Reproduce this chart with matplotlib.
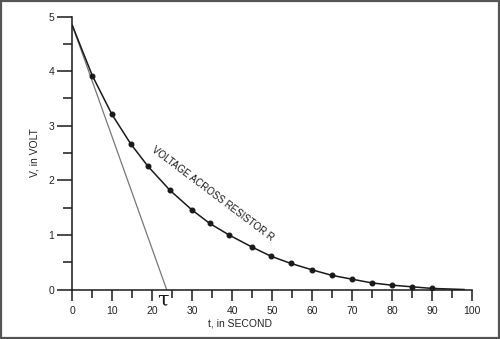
import matplotlib
matplotlib.use("Agg")
import matplotlib.pyplot as plt
from matplotlib.patches import Rectangle
from matplotlib.ticker import MultipleLocator

# Sampled capacitor discharge voltage (V) vs time (s)
t_samples = [5, 9.9, 14.6, 18.9, 24.4, 29.9, 34.4, 39.2, 44.9, 49.7,
             54.6, 60, 64.9, 69.9, 75, 79.9, 84.9, 90]
v_samples = [3.92, 3.21, 2.67, 2.26, 1.82, 1.46, 1.21, 1.00, 0.78, 0.61,
             0.48, 0.36, 0.26, 0.19, 0.12, 0.08, 0.05, 0.02]

# Curve start and end (no markers there)
v_start = 4.84
t_end, v_end = 98, 0.0

# Initial tangent crosses the time axis at tau
tau = 23.6

plt.rcParams['font.family'] = ['Liberation Sans', 'DejaVu Sans']

fig = plt.figure(figsize=(5.0, 3.39), dpi=100)
ax = fig.add_axes([0.1446, 0.146, 0.7994, 0.805])

curve_t = [0] + t_samples + [t_end]
curve_v = [v_start] + v_samples + [v_end]
ax.plot(curve_t, curve_v, color='#1a1a1a', lw=1.1, zorder=3)
ax.plot(t_samples, v_samples, 'o', color='#1a1a1a', ms=3.3, zorder=4)

ax.plot([0, tau], [v_start, 0], color='#777777', lw=0.9, zorder=2)

ax.set_xlim(0, 100)
ax.set_ylim(0, 5)
ax.xaxis.set_major_locator(MultipleLocator(10))
ax.xaxis.set_minor_locator(MultipleLocator(5))
ax.yaxis.set_major_locator(MultipleLocator(1))
ax.yaxis.set_minor_locator(MultipleLocator(0.5))

for side in ('top', 'right'):
    ax.spines[side].set_visible(False)
for side in ('left', 'bottom'):
    ax.spines[side].set_linewidth(1.1)
    ax.spines[side].set_color('#1a1a1a')

ax.tick_params(axis='y', which='major', direction='out', length=10.5, width=1.1,
               color='#1a1a1a', labelsize=7.5, pad=2.5, labelcolor='#222222')
ax.tick_params(axis='y', which='minor', direction='out', length=6.5, width=1.1,
               color='#1a1a1a')
ax.tick_params(axis='x', which='major', direction='out', length=8, width=1.1,
               color='#1a1a1a', labelsize=7.5, pad=4, labelcolor='#222222')
ax.tick_params(axis='x', which='minor', direction='out', length=6, width=1.1,
               color='#1a1a1a')

ax.text(-9.5, 2.5, 'V, in VOLT', rotation=90, ha='center', va='center',
        fontsize=7.5, color='#222222', clip_on=False)
ax.text(42, -0.62, 't, in SECOND', ha='center', va='center',
        fontsize=7.5, color='#222222', clip_on=False)

ax.text(22.7, -0.2, '\u03c4', ha='center', va='center', fontsize=15,
        family='DejaVu Serif', color='#1a1a1a', clip_on=False)

ax.text(35.2, 1.75, 'VOLTAGE ACROSS RESISTOR R', rotation=-37,
        rotation_mode='anchor', ha='center', va='center', fontsize=7,
        color='#1a1a1a')

# Frame around the whole figure
fig.patches.append(Rectangle((0.002, 0.003), 0.995, 0.994, transform=fig.transFigure,
                             fill=False, edgecolor='#555555', lw=1.6))

fig.savefig('out.png', dpi=100)
